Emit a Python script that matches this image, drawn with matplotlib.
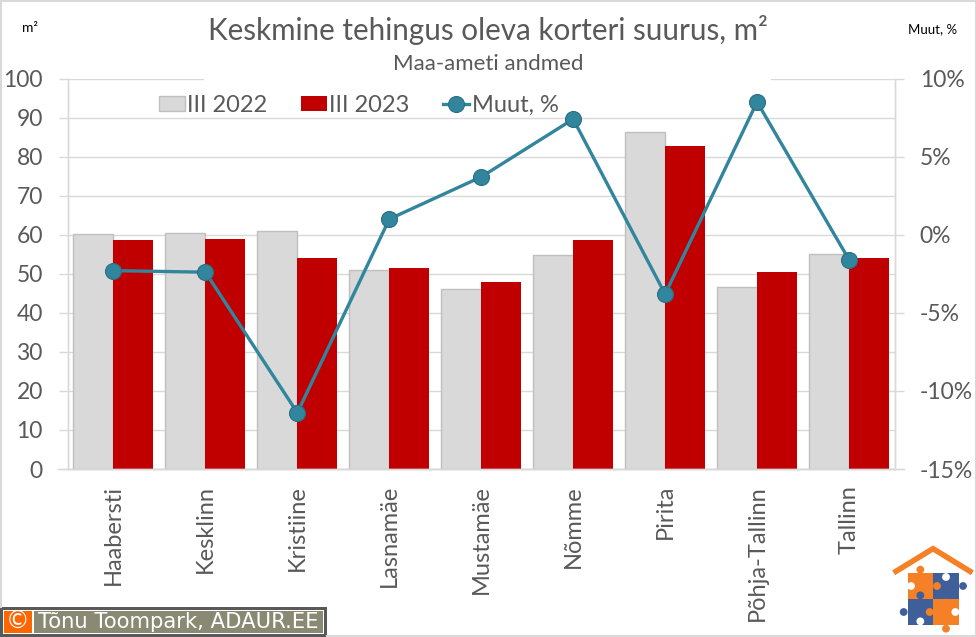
import numpy as np
import matplotlib
matplotlib.use('Agg')
import matplotlib.pyplot as plt
from matplotlib.patches import Rectangle, Circle, Patch
from matplotlib.lines import Line2D

plt.rcParams['font.family'] = ['Lato', 'DejaVu Sans']

districts = ['Haabersti', 'Kesklinn', 'Kristiine', 'Lasnamäe', 'Mustamäe', 'Nõmme',
             'Pirita', 'Põhja-Tallinn', 'Tallinn']
size_2022 = [60.1, 60.4, 61.0, 51.0, 46.2, 54.8, 86.2, 46.6, 55.0]
size_2023 = [58.6, 58.9, 54.0, 51.5, 47.9, 58.6, 82.7, 50.4, 54.0]
change = [-2.3, -2.4, -11.4, 1.0, 3.7, 7.4, -3.8, 8.5, -1.6]
left_ticks = [0, 10, 20, 30, 40, 50, 60, 70, 80, 90, 100]
right_ticks = [-15, -10, -5, 0, 5, 10]

text_col = '#595959'
grid_col = '#d9d9d9'
line_col = '#31859c'
W, H = 976, 637

fig = plt.figure(figsize=(W / 100, H / 100), dpi=100)
ax = fig.add_axes([67.5 / W, 1 - 469 / H, (895 - 67.5) / W, (469 - 78.5) / H])

x = np.arange(len(districts))
bar_w = 0.435
ax.bar(x - bar_w / 2, size_2022, bar_w, color='#d9d9d9', edgecolor='#bfbfbf', linewidth=1, zorder=2)
ax.bar(x + bar_w / 2, size_2023, bar_w, color='#c00000', linewidth=0, zorder=2)
ax.set_xlim(-0.5, len(districts) - 0.5)
ax.set_ylim(0, 100)
ax.set_yticks(left_ticks)
ax.yaxis.grid(True, color=grid_col, linewidth=1)
ax.set_axisbelow(True)
ax.set_xticks(x)
ax.set_xticklabels(districts, rotation=90, fontsize=17, color=text_col)
ax.tick_params(axis='x', length=0, pad=11.5)
ax.tick_params(axis='y', length=6.8, width=1, color=grid_col, labelsize=16.5, labelcolor=text_col, pad=11)

ax2 = ax.twinx()
ax2.plot(x, change, color=line_col, linewidth=2.4, marker='o', markersize=11.5,
         markerfacecolor=line_col, markeredgecolor='#2a6f84', markeredgewidth=0.8, zorder=5)
ax2.set_ylim(-15, 10)
ax2.set_yticks(right_ticks)
ax2.set_yticklabels([f'{t}%' for t in right_ticks])
ax2.tick_params(axis='y', length=6.8, width=1, color=grid_col, labelsize=16.5, labelcolor=text_col, pad=11)

for a in (ax, ax2):
    a.spines['top'].set_visible(False)
    for s in ('left', 'right', 'bottom'):
        a.spines[s].set_color(grid_col)
        a.spines[s].set_linewidth(1)

# bottom axis line runs out to the tick ends
ax.plot([-0.5 - 9.5 / 92, 8.5 + 9.5 / 92], [0, 0], color=grid_col, lw=1, clip_on=False, zorder=1)

handles = [Patch(facecolor='#d9d9d9', edgecolor='#bfbfbf', label='III 2022'),
           Patch(facecolor='#c00000', label='III 2023'),
           Line2D([0], [0], color=line_col, lw=2.4, marker='o', markersize=11.5,
                  markerfacecolor=line_col, markeredgecolor='#2a6f84', markeredgewidth=0.8, label='Muut, %')]
ax2.legend(handles=handles, ncol=3, frameon=False, fontsize=17, labelcolor=text_col,
           loc='center left', bbox_to_anchor=((159 - 67.5) / 827.5, (469 - 105) / 390.5),
           handlelength=1.1, handleheight=0.6, handletextpad=0.1, columnspacing=1.42,
           borderpad=0, borderaxespad=0)

# everything else is placed in pixels on a full figure overlay
ov = fig.add_axes([0, 0, 1, 1], zorder=10)
ov.set_xlim(0, W)
ov.set_ylim(H, 0)
ov.axis('off')

ov.add_patch(Rectangle((204, 8), 567, 76, facecolor='white', edgecolor='none'))
ov.text(488, 30, 'Keskmine tehingus oleva korteri suurus, m²', fontsize=21.3, color=text_col,
        ha='center', va='center')
ov.text(488, 64, 'Maa-ameti andmed', fontsize=16, color=text_col, ha='center', va='center')
ov.text(30, 28, 'm²', fontsize=10, color='black', ha='center', va='center')
ov.text(933, 29, 'Muut, %', fontsize=9.5, color='black', ha='center', va='center')

# chart frame
ov.plot([1, 1], [0, 607], color=grid_col, lw=1.5)
ov.plot([0, 975.5, 975.5], [1, 1, 636], color=grid_col, lw=1.5)
ov.plot([327, 975.5], [636, 636], color=grid_col, lw=1.5)

# copyright badge
ov.add_patch(Rectangle((0, 607), 327, 30, facecolor='#595959', edgecolor='none'))
ov.add_patch(Rectangle((3, 610), 321, 24, facecolor='white', edgecolor='none'))
ov.add_patch(Rectangle((4, 611), 28, 22, facecolor='#ff6600', edgecolor='none'))
ov.add_patch(Rectangle((34, 611), 289, 22, facecolor='#8a8a74', edgecolor='none'))
ov.text(18, 622, '©', fontsize=17, color='white', ha='center', va='center', family='DejaVu Sans')
ov.text(178, 621.5, 'Tõnu Toompark, ADAUR.EE', fontsize=15.2, color='white', ha='center', va='center',
        family='DejaVu Sans')

# logo, house made of puzzle pieces
orange = '#f58025'
blue = '#3f5f9a'
def lx(v):
    return 860 + v / 3
def ly(v):
    return 530 + v / 3
ov.plot([lx(108), lx(219), lx(330)], [ly(124), ly(56), ly(124)], color=orange, lw=4, solid_joinstyle='miter')
for x0, y0, col in [(143, 130, orange), (220, 130, blue), (143, 207, blue), (220, 207, orange)]:
    ov.add_patch(Rectangle((lx(x0), ly(y0)), 77 / 3, 77 / 3, facecolor=col, edgecolor='none'))
knobs = [(181, 119, orange), (153, 168, 'white'), (231, 168, orange), (258, 141, 'white'),
         (309, 168, blue), (181, 196, blue), (131, 246, blue), (181, 274, 'white'),
         (209, 246, orange), (258, 218, orange), (286, 246, 'white'), (258, 296, orange)]
for cx, cy, col in knobs:
    ov.add_patch(Circle((lx(cx), ly(cy)), 3.9, facecolor=col, edgecolor='none'))

fig.savefig('out.png', dpi=100)
